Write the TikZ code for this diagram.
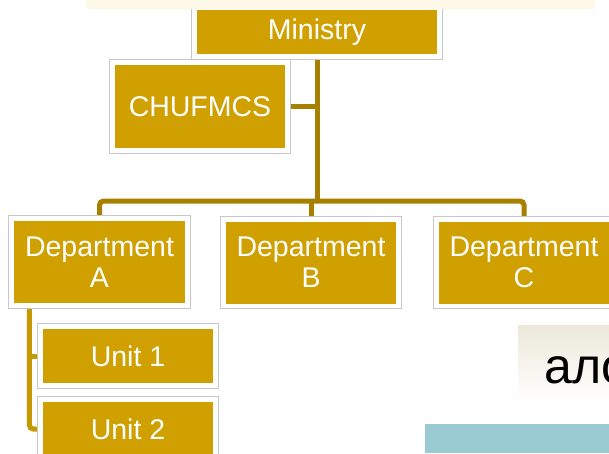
\documentclass[tikz,border=0pt]{standalone}
\usepackage{fontspec}
\setmainfont{Liberation Sans}
\usetikzlibrary{backgrounds}
\definecolor{gold}{RGB}{207,160,0}
\definecolor{linegold}{RGB}{168,128,0}
\definecolor{unitline}{RGB}{196,154,0}
\definecolor{framegray}{RGB}{200,200,200}
\definecolor{tealbar}{RGB}{155,203,210}
\definecolor{cream}{RGB}{253,248,232}
\definecolor{boxtop}{RGB}{236,232,218}
\begin{document}
\begin{tikzpicture}[x=1pt,y=-1pt,
  orgbox/.style={fill=gold, text=white, inner sep=0pt, align=center,
    font=\fontsize{28.5}{31}\selectfont},
  conn/.style={draw=linegold, line width=5pt, rounded corners=4pt},
  unitconn/.style={draw=unitline, line width=5pt, rounded corners=4pt},
  frame/.style={draw=framegray, line width=0.8pt, fill=white}]
\useasboundingbox (0,0) rectangle (609,453);
\clip (0,0) rectangle (609,453);
% boxes
\node[orgbox, minimum width=240pt, minimum height=44pt] (min) at (317,32) {Ministry};
\node[orgbox, minimum width=170pt, minimum height=83pt] (chu) at (200,106.5) {CHUFMCS};
\node[orgbox, minimum width=171pt, minimum height=82pt] (da) at (99.5,262) {Department\\A};
\node[orgbox, minimum width=170pt, minimum height=82pt] (db) at (311,262.5) {Department\\B};
\node[orgbox, minimum width=170pt, minimum height=82pt] (dc) at (524,262.5) {Department\\C};
\node[orgbox, minimum width=170pt, minimum height=54pt] (u1) at (128,356) {Unit 1};
\node[orgbox, minimum width=170pt, minimum height=54pt] (u2) at (128,429) {Unit 2};
\coordinate (bus) at (317,201);
\coordinate (spine) at ([xshift=15.5pt]da.south west);
\begin{scope}[on background layer]
  \fill[white] (0,0) rectangle (609,453);
  % connectors
  \draw[conn] (min.south) -- (bus);
  \draw[conn] (da.north) |- (bus) -| (dc.north);
  \draw[conn] (db.north) -- (db.north |- bus);
  \draw[conn] (chu.east) -- (chu.east -| bus);
  \draw[unitconn] (spine) |- (u2.west);
  \draw[unitconn] (spine |- u1.west) -- (u1.west);
  % white frames
  \foreach \n in {min,chu,da,db,dc,u1,u2}
    \draw[frame] ([shift={(-5,-5)}]\n.north west) rectangle ([shift={(5,5)}]\n.south east);
\end{scope}
% top band
\fill[cream] (86,0) rectangle (595,9);
% right side fragments
\shade[top color=boxtop, bottom color=white] (518,325) rectangle (609,403);
\node[anchor=base west, inner sep=0pt, font=\fontsize{50}{50}\selectfont] (frag) at (544,383) {ало};
\fill[tealbar] (425,424) rectangle (609,453);
\end{tikzpicture}
\end{document}
